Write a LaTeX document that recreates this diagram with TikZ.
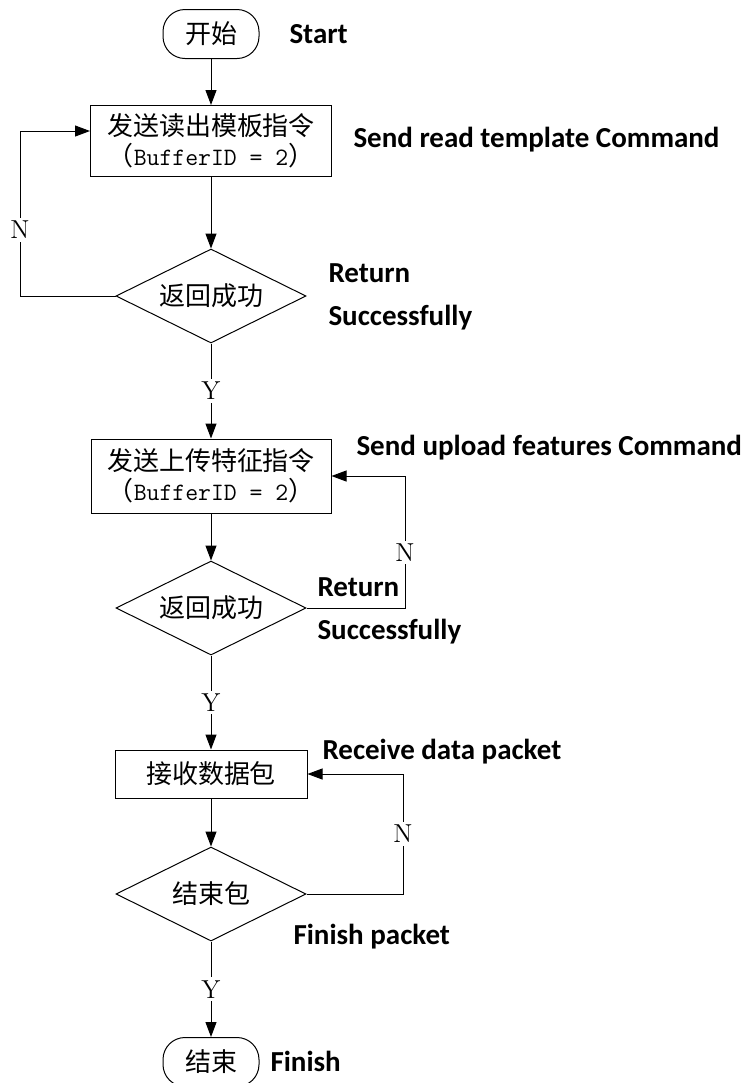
\documentclass[tikz,border=0pt]{standalone}
\usepackage{fontspec}
\usepackage{tikz}
\usetikzlibrary{arrows.meta,shapes.geometric}
\newfontfamily\cjk{Noto Sans CJK SC}
\newfontfamily\engfont{Carlito}

\begin{document}
\begin{tikzpicture}[x=0.5pt,y=-0.5pt,line width=0.5pt,>={Triangle[length=7.5pt,width=5.5pt]}]
						\tikzstyle{terminal}=[draw=black,rectangle,rounded corners=11pt,minimum width=48pt,minimum height=24.5pt,font=\cjk\fontsize{13}{15}\selectfont]
						\tikzstyle{process}=[draw=black,rectangle,align=center,inner sep=0pt,font=\cjk\fontsize{13}{15}\selectfont]
						\tikzstyle{decision}=[draw=black,diamond,aspect=2,inner sep=0pt,minimum width=95pt,minimum height=47pt,font=\cjk\fontsize{13}{15}\selectfont]
						\tikzstyle{yn}=[fill=white,inner sep=1.5pt,font=\fontsize{13}{15}\selectfont]
						\tikzstyle{note}=[anchor=west,align=left,inner sep=0pt,font=\engfont\bfseries\fontsize{14.5}{21.5}\selectfont]
						\useasboundingbox (0,0) rectangle (748,1083);
						\node[terminal](start) at (211,34) {开始};
						\node[process,minimum width=120.5pt,minimum height=35.5pt](box1) at (211,141) {发送读出模板指令\\（{\ttfamily\fontsize{12.5}{15}\selectfont BufferID = 2}）};
						\node[decision](dia1) at (211,296) {返回成功};
						\node[process,minimum width=120pt,minimum height=37pt](box2) at (211,476) {发送上传特征指令\\（{\ttfamily\fontsize{12.5}{15}\selectfont BufferID = 2}）};
						\node[decision](dia2) at (211,608) {返回成功};
						\node[process,minimum width=96pt,minimum height=24pt](box3) at (211,774) {接收数据包};
						\node[decision](dia3) at (211,894) {结束包};
						\node[terminal](finish) at (211,1062) {结束};
						\coordinate (c1) at (20,131);
						\coordinate (c2) at (405,476);
						\coordinate (c3) at (403,774);
						\draw[->](start) -- (box1);
						\draw[->](box1) -- (dia1);
						\draw[->](dia1) -- node[yn,midway] {Y} (box2);
						\draw[->](box2) -- (dia2);
						\draw[->](dia2) -- node[yn,midway] {Y} (box3);
						\draw[->](box3) -- (dia3);
						\draw[->](dia3) -- node[yn,midway] {Y} (finish);
						\draw[->](dia1.west) -| node[yn,pos=0.7] {N} (c1) -- ([yshift=5pt]box1.west);
						\draw[->](dia2.east) -| node[yn,pos=0.71] {N} (c2) -- (box2.east);
						\draw[->](dia3.east) -| node[yn,pos=0.75] {N} (c3) -- (box3.east);
						\node[note](lstart) at (289,34) {Start};
						\node[note](lbox1) at (353,140) {Send read template Command};
						\node[note](ldia1) at (328,297) {Return\\Successfully};
						\node[note](lbox2) at (356,448) {Send upload features Command};
						\node[note](ldia2) at (317,611) {Return\\Successfully};
						\node[note](lbox3) at (322,752) {Receive data packet};
						\node[note](ldia3) at (293,937) {Finish packet};
						\node[note](lfinish) at (270,1061) {Finish};
					\end{tikzpicture}
\end{document}
